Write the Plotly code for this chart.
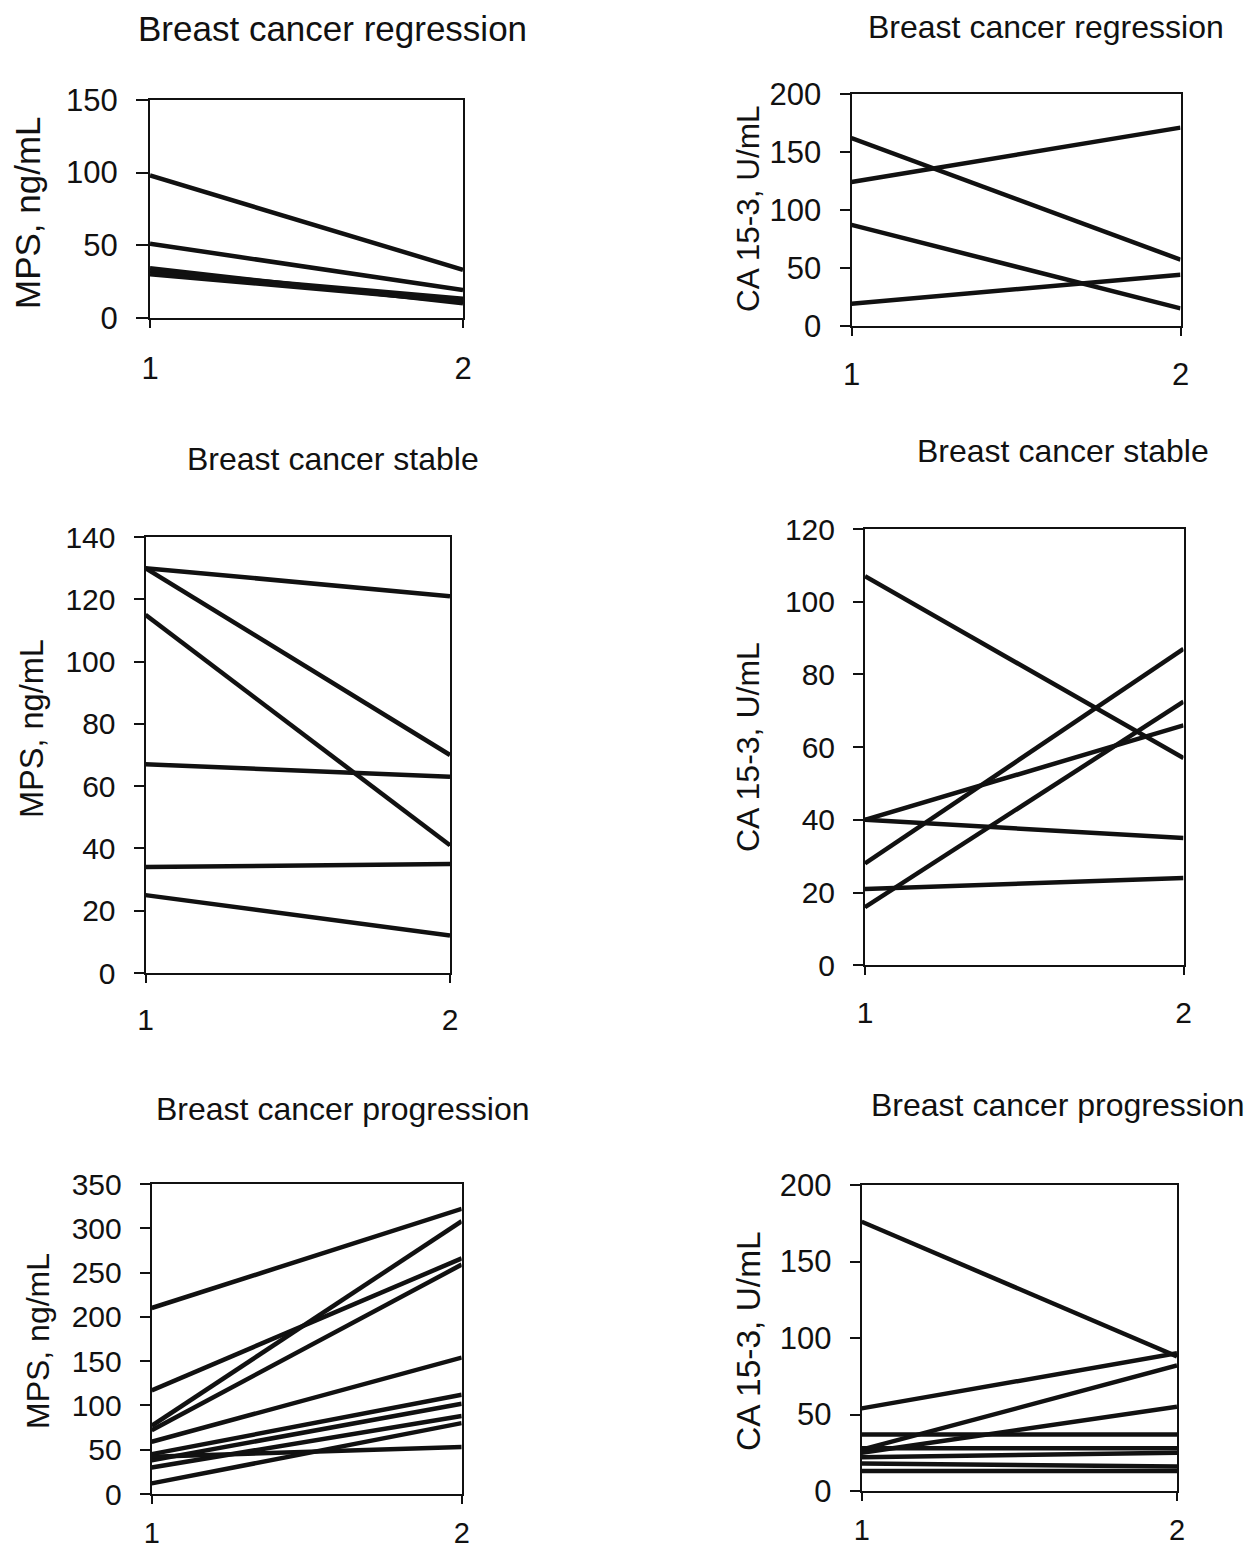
import plotly.graph_objects as go

PAGE_W, PAGE_H = 1259, 1556
OFF = 8  # browser body margin
W, H = PAGE_W - 2 * OFF, PAGE_H - 2 * OFF

# ---------------- data ----------------
time_points = [1, 2]
time_labels = ["1", "2"]

# Breast cancer regression - MPS, ng/mL
reg_mps_t1 = [98, 51, 34, 32, 30]
reg_mps_t2 = [33, 19, 10, 13, 11]

# Breast cancer regression - CA 15-3, U/mL
reg_ca_t1 = [162, 124, 87, 19]
reg_ca_t2 = [57, 171, 15, 44]

# Breast cancer stable - MPS, ng/mL
stab_mps_t1 = [130, 130, 115, 67, 34, 25]
stab_mps_t2 = [121, 70, 41, 63, 35, 12]

# Breast cancer stable - CA 15-3, U/mL
stab_ca_t1 = [107, 28, 16, 40, 40, 21]
stab_ca_t2 = [57, 87, 72.5, 66, 35, 24]

# Breast cancer progression - MPS, ng/mL
prog_mps_t1 = [210, 117, 77, 72, 59, 45, 38, 30, 42, 12]
prog_mps_t2 = [322, 266, 308, 259, 154, 112, 102, 88, 53, 80]

# Breast cancer progression - CA 15-3, U/mL
prog_ca_t1 = [176, 54, 27, 25, 37, 28, 22, 18, 13]
prog_ca_t2 = [88, 90, 82, 55, 37, 28, 25, 16, 13]

titles = ["Breast cancer regression", "Breast cancer regression",
          "Breast cancer stable", "Breast cancer stable",
          "Breast cancer progression", "Breast cancer progression"]
ylabels = ["MPS, ng/mL", "CA 15-3, U/mL"] * 3
yranges = [[0, 150], [0, 200], [0, 140], [0, 120], [0, 350], [0, 200]]
ydticks = [50, 50, 20, 20, 50, 50]

series = [(reg_mps_t1, reg_mps_t2), (reg_ca_t1, reg_ca_t2),
          (stab_mps_t1, stab_mps_t2), (stab_ca_t1, stab_ca_t2),
          (prog_mps_t1, prog_mps_t2), (prog_ca_t1, prog_ca_t2)]

# ---------------- layout geometry (page pixels) ----------------
frames = [  # x0, x1, ytop, ybottom
    (150, 463, 100, 317.7),
    (851.5, 1180.5, 94, 325.7),
    (145.5, 450, 537, 973),
    (865, 1183.5, 529, 965.3),
    (151.7, 461.7, 1184, 1494),
    (861.7, 1177, 1185, 1491),
]
tick_sizes = [31, 31, 30, 30, 30, 31]
xtick_sizes = [31, 31, 30, 30, 29, 29]
title_sizes = [35, 32, 32, 32, 32, 32]
label_sizes = [35, 31.5, 32.5, 32, 32, 33.5]
xlab_standoff = [14, 12, 11, 12, 4, 4]
title_pos = [(332, 28), (1046, 27), (333, 459), (1063, 451), (343, 1109), (1058, 1105)]
label_pos = [(28, 213), (748, 209), (32, 729), (748, 747), (38, 1341), (748, 1341)]


def px_x(v):
    return (v - OFF) / W


def px_y(v):
    return 1 - (v - OFF) / H


FONT = "Liberation Sans, Arial, sans-serif"
INK = "#111111"

fig = go.Figure()
layout = dict(width=W, height=H, margin=dict(l=0, r=0, t=0, b=0, pad=0, autoexpand=False),
              template="none",
              paper_bgcolor="white", plot_bgcolor="white", showlegend=False,
              annotations=[])

for i, ((v1, v2), (x0, x1, yt, yb)) in enumerate(zip(series, frames)):
    n = i + 1
    xa = "x" if n == 1 else f"x{n}"
    ya = "y" if n == 1 else f"y{n}"
    for a, b in zip(v1, v2):
        fig.add_trace(go.Scatter(x=time_points, y=[a, b], mode="lines",
                                 line=dict(color=INK, width=4.5),
                                 xaxis=xa, yaxis=ya, hoverinfo="skip"))
    tl = 12 if n == 1 else 10
    layout["xaxis" if n == 1 else f"xaxis{n}"] = dict(
        domain=[px_x(x0), px_x(x1)], anchor=ya, range=[1, 2], automargin=False,
        tickvals=time_points, ticktext=time_labels,
        ticks="outside", ticklen=8, tickwidth=1.5, tickcolor=INK,
        showline=True, mirror=True, linecolor=INK, linewidth=2,
        showgrid=False, zeroline=False, ticklabelstandoff=xlab_standoff[i],
        tickfont=dict(family=FONT, size=xtick_sizes[i], color=INK))
    layout["yaxis" if n == 1 else f"yaxis{n}"] = dict(
        domain=[px_y(yb), px_y(yt)], anchor=xa, range=yranges[i], automargin=False,
        dtick=ydticks[i], tick0=0,
        ticks="outside", ticklen=tl, tickwidth=1.5, tickcolor=INK,
        showline=True, mirror=True, linecolor=INK, linewidth=2,
        showgrid=False, zeroline=False, ticklabelstandoff=12,
        tickfont=dict(family=FONT, size=tick_sizes[i], color=INK))
    tx, ty = title_pos[i]
    layout["annotations"].append(dict(
        text=titles[i], xref="paper", yref="paper", x=px_x(tx), y=px_y(ty),
        xanchor="center", yanchor="middle", showarrow=False,
        font=dict(family=FONT, size=title_sizes[i], color=INK)))
    lx, ly = label_pos[i]
    layout["annotations"].append(dict(
        text=ylabels[i], xref="paper", yref="paper", x=px_x(lx), y=px_y(ly),
        xanchor="center", yanchor="middle", showarrow=False, textangle=-90,
        font=dict(family=FONT, size=label_sizes[i], color=INK)))

fig.update_layout(**layout)
fig.write_html("out.html")
